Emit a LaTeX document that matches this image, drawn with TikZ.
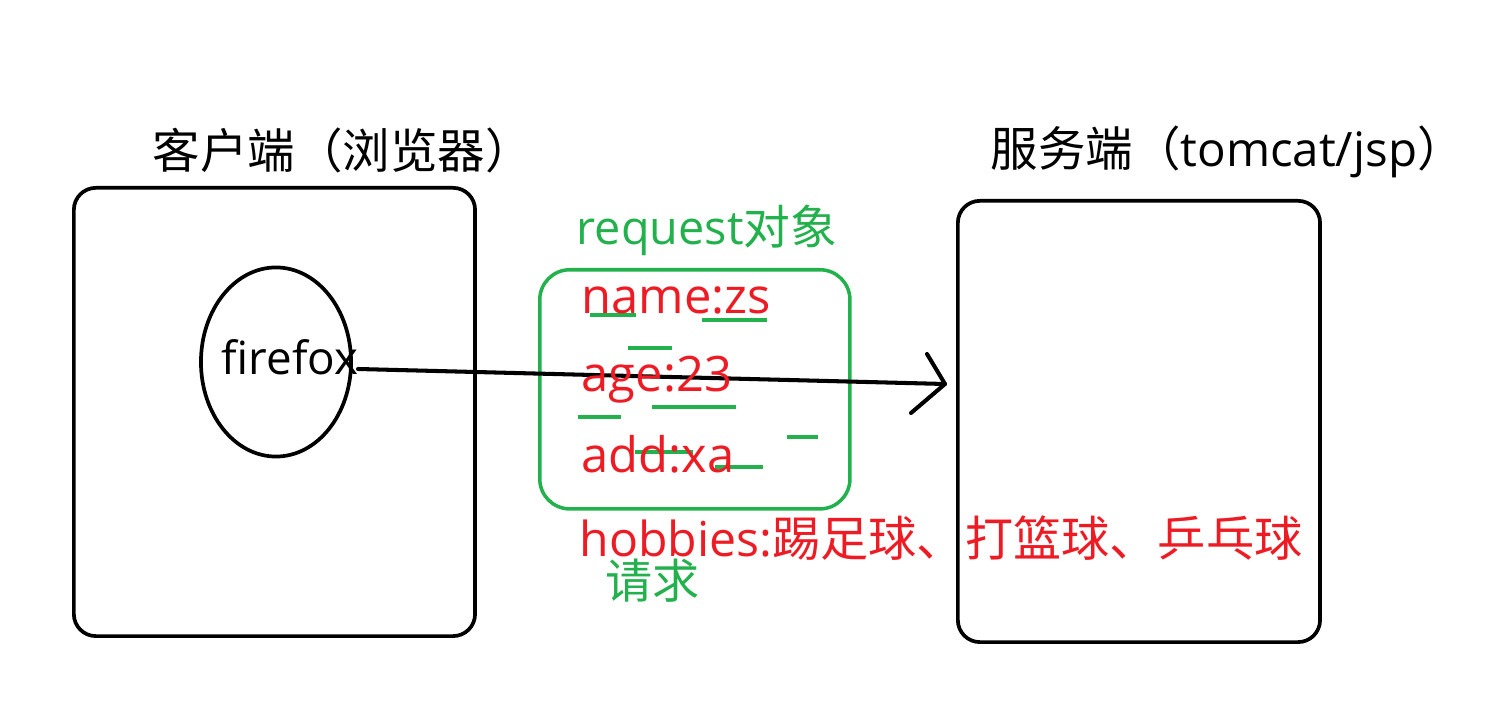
\documentclass[tikz,border=0pt]{standalone}
\usepackage{fontspec}
\setmainfont{Open Sans}
\newfontfamily\cjk{Noto Sans CJK SC}
\usetikzlibrary{shapes.geometric}
\definecolor{pgreen}{HTML}{22B14C}
\definecolor{pred}{HTML}{ED1C24}
\begin{document}
\begin{tikzpicture}[x=0.01cm,y=-0.01cm,
  bigbox/.style={draw=black, line width=1.05pt, rounded corners=0.22cm, inner sep=0, anchor=north west},
  txt/.style={inner sep=0, anchor=base west, font=\fontsize{13.5}{16}\selectfont},
  redtxt/.style={txt, text=pred, font=\fontsize{13.9}{16}\selectfont},
  greentxt/.style={txt, text=pgreen, font=\fontsize{13.3}{16}\selectfont},
  gmark/.style={draw=pgreen, line width=1.1pt},
  arrowline/.style={draw=black, line width=1.15pt, line cap=round, line join=round}]
\useasboundingbox (0,0) rectangle (1503,719);
% boxes
\node[bigbox, minimum width=4.01cm, minimum height=4.48cm] (client) at (72,186) {};
\node[bigbox, minimum width=3.62cm, minimum height=4.41cm] (server) at (956,199) {};
\node[draw=black, line width=1.05pt, ellipse, minimum width=1.50cm, minimum height=1.89cm, inner sep=0] (ell) at (276,362) {};
\node[draw=pgreen, line width=1.0pt, rounded corners=0.3cm, inner sep=0, anchor=north west, minimum width=3.10cm, minimum height=2.39cm] (req) at (538,268) {};
% green marks
\draw[gmark] (590,315) -- (636,315);
\draw[gmark] (702,320) -- (767,320);
\draw[gmark] (628,348) -- (672,348);
\draw[gmark] (652,407) -- (736,407);
\draw[gmark] (578,417) -- (621,417);
\draw[gmark] (787,437) -- (818,437);
\draw[gmark] (635,452) -- (693,452);
\draw[gmark] (715,467) -- (763,467);
% arrow
\coordinate (as) at (358,369);
\coordinate (at) at (945,384);
\coordinate (au) at (927,354);
\coordinate (al) at (911,413);
\draw[arrowline] (as) -- (at);
\draw[arrowline] (au) -- (at) -- (al);
% texts
\node[txt] (ctitle) at (152,169) {\cjk 客户端（浏览器）};
\node[txt] (stitle) at (990,167) {{\cjk 服务端（}tomcat/jsp{\cjk ）}};
\node[txt, font=\fontsize{13}{16}\selectfont] (ff) at (221,375) {firefox};
\node[greentxt] (reqlabel) at (576,245) {request{\cjk 对象}};
\node[redtxt] (n1) at (581,314) {name:zs};
\node[redtxt] (n2) at (581,392) {age:23};
\node[redtxt] (n3) at (581,473) {add:xa};
\node[redtxt, font=\fontsize{13.7}{16}\selectfont] (n4) at (579,557) {hobbies:{\cjk 踢足球、打篮球、乒乓球}};
\node[greentxt, font=\fontsize{13.4}{16}\selectfont] (qq) at (605,599) {\cjk 请求};
\end{tikzpicture}
\end{document}
